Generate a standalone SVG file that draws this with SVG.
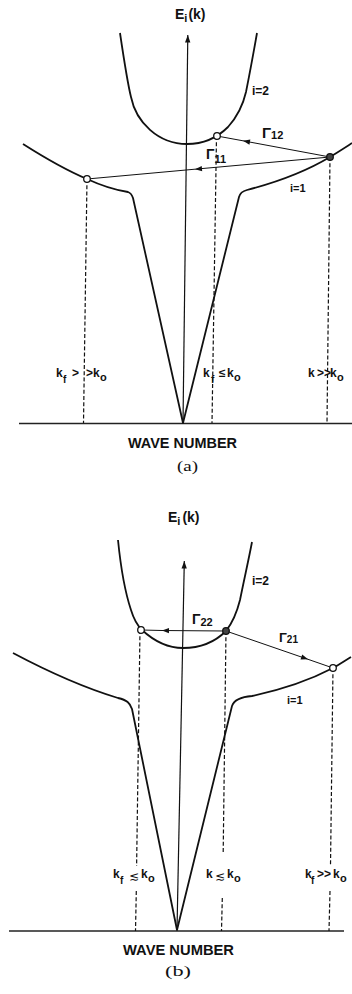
<svg xmlns="http://www.w3.org/2000/svg" width="352" height="994" viewBox="0 0 352 994">
<style>
.bg{fill:#fff}
.curve{fill:none;stroke:#111;stroke-width:1.8;stroke-linejoin:round}
.axis{fill:none;stroke:#111;stroke-width:1.2}
.base{fill:none;stroke:#222;stroke-width:1.6}
.dash{fill:none;stroke:#111;stroke-width:1.2;stroke-dasharray:4 2.2}
.tr{fill:none;stroke:#111;stroke-width:1}
.pt{fill:#fff;stroke:#111;stroke-width:1.3}
.ptf{fill:#444;stroke:#111;stroke-width:1.3}
.lbl{font-family:"Liberation Sans","DejaVu Sans",sans-serif;font-weight:bold;fill:#111}
.sym{font-family:"DejaVu Sans",sans-serif;font-weight:normal}
.cap{font-family:"Liberation Serif","DejaVu Serif",serif;fill:#111}
</style>
<defs>
<marker id="mid" markerUnits="userSpaceOnUse" markerWidth="10" markerHeight="8" viewBox="-8 -4 10 8" refX="0" refY="0" orient="auto">
<path d="M0,0 L-7,-2.6 L-7,2.6 Z" fill="#111"/>
</marker>
<marker id="ax" markerUnits="userSpaceOnUse" markerWidth="10" markerHeight="12" viewBox="-10 -5 12 10" refX="0" refY="0" orient="auto">
<path d="M0,0 L-9,-3.2 L-9,3.2 Z" fill="#111"/>
</marker>
</defs>
<rect class="bg" width="352" height="994"/>

<!-- Panel (a) -->
<g id="panel-a">
<text class="lbl" x="175" y="19" font-size="14">E<tspan font-size="11" dy="3">i</tspan><tspan dy="-3" dx="1">(k)</tspan></text>
<g id="a-axes">
<line class="base" x1="19" y1="423.5" x2="352" y2="423.5"/>
<line class="axis" x1="183" y1="423" x2="187.8" y2="35" marker-end="url(#ax)"/>
</g>
<g id="a-band2">
<path class="curve" d="M120,33 C124,60 128,85 131,97 C136,122 158,144 187,144 C205,144 218,137 228,127 C238,116 243,105 246,92 C250,72 254,50 257,33"/>
<text class="lbl" x="252" y="95" font-size="12">i=2</text>
</g>
<g id="a-band1">
<path class="curve" d="M23,144 C45,158 68,171 87,179 C100,185 115,190 128,192 C131,193 132,195 133,198 L183,423 L239,197 C240,193 243,191 247,190 C270,184 300,175 330,157 C338,152 345,148 352,143"/>
<text class="lbl" x="290" y="192" font-size="11">i=1</text>
</g>
<g id="a-connectors">
<path class="tr" d="M330,157 L243,140.8 L217,136" marker-mid="url(#mid)"/>
<path class="tr" d="M330,157 L195,169.2 L87,179" marker-mid="url(#mid)"/>
<line class="dash" x1="87" y1="179" x2="83.5" y2="423"/>
<line class="dash" x1="216.5" y1="136" x2="212" y2="423"/>
<line class="dash" x1="330" y1="157" x2="327" y2="423"/>
</g>
<g id="a-points">
<circle class="pt" cx="217" cy="136" r="3.3"/>
<circle class="pt" cx="87" cy="179" r="3.3"/>
<circle class="ptf" cx="330" cy="157" r="3.3"/>
</g>
<text class="lbl" x="262" y="138" font-size="15">Γ<tspan font-size="11" dy="1">12</tspan></text>
<text class="lbl" x="206" y="159" font-size="14">Γ<tspan font-size="11" dy="4">11</tspan></text>
<g id="a-labels" class="lbl" font-size="12">
<text x="56" y="377">k</text><text x="63" y="383" font-size="10">f</text>
<text x="72" y="377">&gt;</text><text x="86" y="377">&gt;</text>
<text x="93" y="377">k</text><text x="100" y="381" font-size="11">o</text>
<text x="203" y="377">k</text><text x="211" y="383" font-size="10">f</text>
<text x="219" y="377">≤</text><text x="227" y="377">k</text><text x="234" y="381" font-size="11">o</text>
<text x="308" y="377">k</text><text x="317" y="377">&gt;</text><text x="324" y="377">&gt;</text>
<text x="330" y="377">k</text><text x="337" y="381" font-size="11">o</text>
</g>
<text class="lbl" x="128" y="448" font-size="14" textLength="109" lengthAdjust="spacingAndGlyphs">WAVE NUMBER</text>
<text class="cap" x="177" y="471" font-size="15" textLength="21" lengthAdjust="spacingAndGlyphs">(a)</text>
</g>

<!-- Panel (b) -->
<g id="panel-b">
<text class="lbl" x="168" y="522" font-size="14">E<tspan font-size="11" dy="3">i</tspan><tspan dy="-3" dx="2">(k)</tspan></text>
<g id="b-axes">
<line class="base" x1="9" y1="931" x2="344" y2="931"/>
<line class="axis" x1="177" y1="930" x2="184.3" y2="561" marker-end="url(#ax)"/>
</g>
<g id="b-band2">
<path class="curve" d="M118,540 C121,570 126,595 131,610 C134,620 138,626 142,630 C155,642 170,648 183,648 C200,648 215,642 226,631 C233,622 237,612 240,600 C244,580 249,558 252,542"/>
<text class="lbl" x="252" y="585" font-size="12">i=2</text>
</g>
<g id="b-band1">
<path class="curve" d="M13,653 C45,670 85,688 118,698 C127,700 130,703 132,709 L177,930 L232,706 C234,700 240,697 252,696 C280,690 310,680 333,668 C340,664 346,660 351,657"/>
<text class="lbl" x="287" y="704" font-size="11">i=1</text>
</g>
<g id="b-connectors">
<path class="tr" d="M226,631 L162,630.5 L142,630" marker-mid="url(#mid)"/>
<path class="tr" d="M226,631 L308,659.3 L333,668" marker-mid="url(#mid)"/>
<path class="dash" d="M140,630 L136.6,866 M136.3,891 L135.5,931"/>
<path class="dash" d="M226,631 L223.2,852 M222.3,898 L221.5,931"/>
<path class="dash" d="M333,668 L330.5,866 M330,891 L329,931"/>
</g>
<g id="b-points">
<circle class="pt" cx="141" cy="630" r="3.3"/>
<circle class="ptf" cx="226" cy="631" r="3.3"/>
<circle class="pt" cx="333" cy="668" r="3.3"/>
</g>
<text class="lbl" x="192" y="624" font-size="14">Γ<tspan font-size="11" dy="2">22</tspan></text>
<text class="lbl" x="279" y="642" font-size="13">Γ<tspan font-size="10" dy="1">21</tspan></text>
<g id="b-labels" class="lbl" font-size="12">
<text x="113" y="878">k</text><text x="120" y="884" font-size="10">f</text>
<text class="sym" x="129" y="880">≲</text><text x="141" y="878">k</text><text x="148" y="882" font-size="11">o</text>
<text x="206" y="878">k</text><text class="sym" x="215" y="880">≲</text>
<text x="227" y="878">k</text><text x="234" y="882" font-size="11">o</text>
<text x="305" y="878">k</text><text x="311" y="884" font-size="10">f</text>
<text x="317" y="878">&gt;&gt;</text><text x="333" y="878">k</text><text x="340" y="882" font-size="11">o</text>
</g>
<text class="lbl" x="123" y="955" font-size="14" textLength="111" lengthAdjust="spacingAndGlyphs">WAVE NUMBER</text>
<text class="cap" x="165" y="976" font-size="15" textLength="26" lengthAdjust="spacingAndGlyphs">(b)</text>
</g>
</svg>
